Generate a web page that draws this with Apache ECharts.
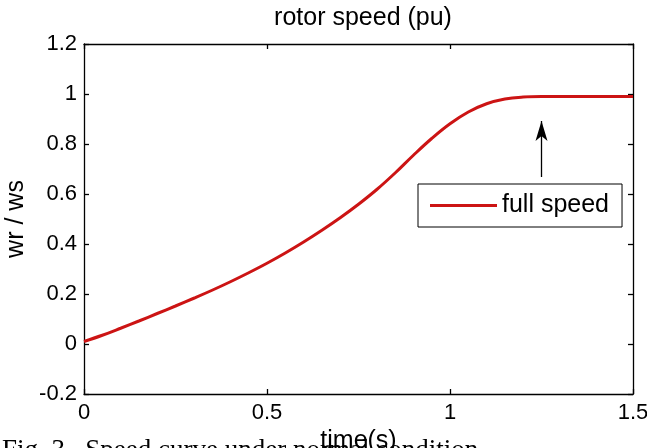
<!DOCTYPE html>
<html>
<head>
<meta charset="utf-8">
<script src="https://cdn.jsdelivr.net/npm/echarts@6/dist/echarts.min.js"></script>
<style>
html,body{margin:0;padding:0;background:#fff;}
#chart{width:647px;height:448px;}
</style>
</head>
<body>
<div id="chart"></div>
<script>
/**时间轴 (s)*/
var timeData = [0, 0.05, 0.1, 0.15, 0.2, 0.25, 0.3, 0.35, 0.4, 0.45, 0.5, 0.55, 0.6, 0.65, 0.7, 0.75,
    0.8, 0.85, 0.9, 0.95, 1.0, 1.05, 1.1, 1.15, 1.2, 1.25, 1.3, 1.35, 1.4, 1.45, 1.5];
/**转速 wr/ws*/
var speedData = [0.01, 0.035, 0.063, 0.092, 0.122, 0.152, 0.183, 0.215, 0.249, 0.285, 0.323, 0.364, 0.408,
    0.455, 0.505, 0.559, 0.618, 0.684, 0.755, 0.822, 0.881, 0.928, 0.961, 0.98, 0.988, 0.99, 0.99,
    0.99, 0.99, 0.99, 0.99];
/**箭头 起点/终点*/
var arrowFrom = [1.25, 0.668];
var arrowTo = [1.25, 0.892];
var xTicks = [0, 0.5, 1, 1.5];
var legendName = 'full speed';

var font = "'Liberation Sans', Arial, sans-serif";
var points = [];
for (var i = 0; i < timeData.length; i++) {
    points.push([timeData[i], speedData[i]]);
}

var axisLine = {show: true, onZero: false, lineStyle: {color: '#000', width: 1.3}};
var axisTick = {show: true, inside: true, length: 5, lineStyle: {color: '#000', width: 1.3}};

var myChart = echarts.init(document.getElementById('chart'));
myChart.setOption({
    animation: false,
    backgroundColor: '#fff',
    title: {
        text: 'rotor speed (pu)',
        left: 358,
        top: 1,
        textAlign: 'center',
        textStyle: {fontFamily: font, fontSize: 25, fontWeight: 'normal', color: '#000'}
    },
    legend: {
        data: [legendName],
        left: 418,
        top: 184,
        orient: 'vertical',
        icon: 'rect',
        itemWidth: 67,
        itemHeight: 3,
        padding: [9, 13, 9, 12],
        borderColor: '#000',
        borderWidth: 1,
        backgroundColor: '#fff',
        textStyle: {fontFamily: font, fontSize: 25, color: '#000'}
    },
    grid: {left: 84, right: 14, top: 44, bottom: 54, containLabel: false, outerBoundsMode: 'none'},
    xAxis: [{
        type: 'value',
        min: 0, max: 1.5, interval: 0.5,
        name: 'time(s)',
        nameLocation: 'middle',
        nameGap: 34,
        nameTextStyle: {fontFamily: font, fontSize: 25, color: '#000'},
        axisLine: axisLine, axisTick: axisTick,
        axisLabel: {fontFamily: font, fontSize: 22, color: '#000', margin: 8,
            formatter: function (v) { return xTicks.indexOf(v) >= 0 ? String(v) : ''; }},
        splitLine: {show: false}
    }, {
        type: 'value', position: 'top',
        min: 0, max: 1.5, interval: 0.5,
        axisLine: axisLine, axisTick: axisTick,
        axisLabel: {show: false}, splitLine: {show: false}
    }],
    yAxis: [{
        type: 'value',
        min: -0.2, max: 1.2, interval: 0.2,
        name: 'wr / ws',
        nameLocation: 'middle',
        nameGap: 50,
        nameTextStyle: {fontFamily: font, fontSize: 25, color: '#000'},
        axisLine: axisLine, axisTick: axisTick,
        axisLabel: {fontFamily: font, fontSize: 22, color: '#000', margin: 7,
            formatter: function (v) { return String(Math.round(v * 10) / 10); }},
        splitLine: {show: false}
    }, {
        type: 'value', position: 'right',
        min: -0.2, max: 1.2, interval: 0.2,
        axisLine: axisLine, axisTick: axisTick,
        axisLabel: {show: false}, splitLine: {show: false}
    }],
    series: [{
        name: legendName,
        type: 'line',
        data: points,
        smooth: 0.4,
        symbol: 'none',
        lineStyle: {color: '#cc1414', width: 3},
        itemStyle: {color: '#cc1414'},
        markLine: {
            silent: true,
            symbol: ['none', 'arrow'],
            symbolSize: [9, 20],
            label: {show: false},
            lineStyle: {color: '#000', width: 1.3, type: 'solid'},
            data: [[{coord: arrowFrom}, {coord: arrowTo}]]
        }
    }],
    graphic: [{
        type: 'text',
        left: 2,
        top: 437,
        style: {
            text: 'Fig. 3.  Speed curve under normal condition',
            fontFamily: "'Liberation Serif', 'Times New Roman', serif",
            fontSize: 27,
            fill: '#000'
        }
    }]
});
</script>
</body>
</html>
